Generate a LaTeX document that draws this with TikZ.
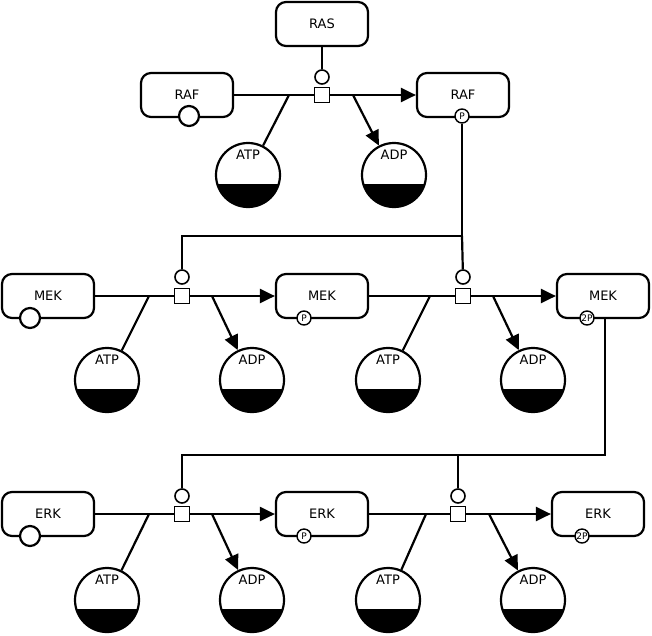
\documentclass[tikz,border=0pt]{standalone}
\usepackage{fontspec}
\setmainfont{DejaVu Sans}
\usetikzlibrary{arrows.meta}
\begin{document}
\begin{tikzpicture}[x=1pt,y=-1pt,line width=2.2pt,
  epn/.style={draw,rounded corners=10pt,minimum width=92pt,minimum height=44pt,font=\fontsize{13}{15}\selectfont,inner sep=0pt},
  uoi/.style={draw,fill=white,circle,minimum size=20pt,inner sep=0pt},
  sv/.style={draw,fill=white,circle,minimum size=14pt,inner sep=0pt,font=\fontsize{9}{9}\selectfont,line width=1.4pt},
  proc/.style={draw,fill=white,minimum size=15pt,inner sep=0pt,line width=1.6pt},
  mod/.style={draw,fill=white,circle,minimum size=14pt,inner sep=0pt,line width=1.6pt},
  chem/.style={draw,circle,minimum size=64pt,inner sep=0pt,path picture={
     \fill[black] (path picture bounding box.south west) rectangle ([yshift=23pt]path picture bounding box.south east);},
     label={[font=\fontsize{13}{15}\selectfont,yshift=-22pt]north:#1}},
  prod/.style={-{Triangle[length=15pt,width=14pt]}}]
\useasboundingbox (0,0) rectangle (652,635);
% Row 1
\node[epn] (ras) at (322,24) {RAS};
\node[epn] (raf) at (187,95) {RAF};
\node[uoi] at (189,116) {};
\node[epn] (rafp) at (463,95) {RAF};
\node[sv] (rafps) at (462,116) {P};
\node[proc] (p1) at (322,95) {};
\node[mod] (m1) at (322,77) {};
\node[chem=ATP] (atp1) at (248,175) {};
\node[chem=ADP] (adp1) at (394,175) {};
\coordinate (c1) at (289,95);
\coordinate (d1) at (353,95);
\draw (ras) -- (m1);
\draw (raf.east) -- (p1.west);
\draw[prod] (p1.east) -- (rafp.west);
\draw (atp1) -- (c1);
\draw[prod] (d1) -- (adp1);
% Row 2
\node[epn] (mek) at (48,296) {MEK};
\node[uoi] at (30,318) {};
\node[epn] (mekp) at (322,296) {MEK};
\node[sv] at (304,318) {P};
\node[epn] (mekpp) at (603,296) {MEK};
\node[sv] (mekpps) at (587,318) {2P};
\node[proc] (p2) at (182,296) {};
\node[mod] (m2) at (182,277) {};
\node[proc] (p3) at (463,296) {};
\node[mod] (m3) at (463,277) {};
\node[chem=ATP] (atp2) at (107,380) {};
\node[chem=ADP] (adp2) at (252,380) {};
\node[chem=ATP] (atp3) at (388,380) {};
\node[chem=ADP] (adp3) at (533,380) {};
\coordinate (c2) at (149,296);
\coordinate (d2) at (212,296);
\coordinate (c3) at (430,296);
\coordinate (d3) at (493,296);
\coordinate (j1) at (462,236);
\coordinate (j0) at (182,236);
\draw (rafps.south) -- (j1) -- (j0) -- (m2);
\draw (j1) -- (m3);
\draw (mek.east) -- (p2.west);
\draw[prod] (p2.east) -- (mekp.west);
\draw (mekp.east) -- (p3.west);
\draw[prod] (p3.east) -- (mekpp.west);
\draw (atp2) -- (c2);
\draw[prod] (d2) -- (adp2);
\draw (atp3) -- (c3);
\draw[prod] (d3) -- (adp3);
% Row 3
\node[epn] (erk) at (48,514) {ERK};
\node[uoi] at (30,536) {};
\node[epn] (erkp) at (322,514) {ERK};
\node[sv] at (304,536) {P};
\node[epn] (erkpp) at (598,514) {ERK};
\node[sv] at (582,536) {2P};
\node[proc] (p4) at (182,514) {};
\node[mod] (m4) at (182,496) {};
\node[proc] (p5) at (458,514) {};
\node[mod] (m5) at (458,496) {};
\node[chem=ATP] (atp4) at (107,600) {};
\node[chem=ADP] (adp4) at (252,600) {};
\node[chem=ATP] (atp5) at (388,600) {};
\node[chem=ADP] (adp5) at (533,600) {};
\coordinate (c4) at (149,514);
\coordinate (d4) at (212,514);
\coordinate (c5) at (426,514);
\coordinate (d5) at (489,514);
\coordinate (k0) at (605,318);
\coordinate (k1) at (605,455);
\coordinate (k2) at (458,455);
\coordinate (k3) at (182,455);
\draw (k0) -- (k1) -- (k3) -- (m4);
\draw (k2) -- (m5);
\draw (erk.east) -- (p4.west);
\draw[prod] (p4.east) -- (erkp.west);
\draw (erkp.east) -- (p5.west);
\draw[prod] (p5.east) -- (erkpp.west);
\draw (atp4) -- (c4);
\draw[prod] (d4) -- (adp4);
\draw (atp5) -- (c5);
\draw[prod] (d5) -- (adp5);
\end{tikzpicture}
\end{document}
